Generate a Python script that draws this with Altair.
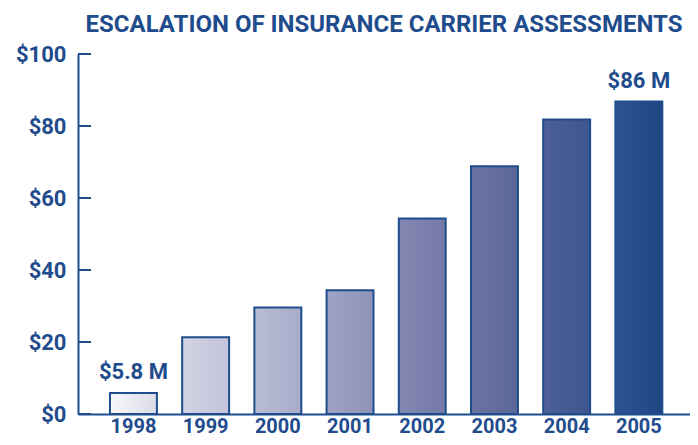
import altair as alt
import pandas as pd

years = ["1998", "1999", "2000", "2001", "2002", "2003", "2004", "2005"]
values = [5.8, 21.3, 29.6, 34.4, 54.3, 68.8, 81.8, 86.8]
labels = ["$5.8 M", "", "", "", "", "", "", "$86 M"]
tick_values = [0, 20, 40, 60, 80, 100]

left_colors = ["#f6f6f9", "#d2d3e3", "#babdd6", "#a0a3c4", "#8387b1", "#6b73a3", "#4d6097", "#2f5290"]
right_colors = ["#dcdce8", "#c3c4d9", "#a8abc9", "#8e92b8", "#7479a7", "#5b6699", "#3e568e", "#1e4683"]

NAVY = "#1f4c8c"
FONT = "Roboto"

df = pd.DataFrame({"year": years, "value": values, "label": labels})
ticks_df = pd.DataFrame({"t": tick_values})

x_scale = alt.Scale(domain=years, paddingInner=0.35, paddingOuter=0.413, align=0.536)
y_scale = alt.Scale(domain=[0, 100], nice=False)

x_axis = alt.Axis(title=None, labelFont=FONT, labelFontSize=20, labelFontWeight="bold",
                  labelColor=NAVY, domainColor=NAVY, domainWidth=2, ticks=False,
                  labelPadding=2, labelAngle=0)
y_axis = alt.Axis(title=None, values=tick_values, labelExpr="'$' + datum.value",
                  labelFont=FONT, labelFontSize=22, labelFontWeight="bold",
                  labelColor=NAVY, domainColor=NAVY, domainWidth=2, ticks=False,
                  labelPadding=12, grid=False)

layers = []
for i, yr in enumerate(years):
    grad = alt.Gradient(
        gradient="linear",
        stops=[alt.GradientStop(color=left_colors[i], offset=0),
               alt.GradientStop(color=right_colors[i], offset=1)],
        x1=0, x2=1, y1=0, y2=0,
    )
    layer = alt.Chart(df).transform_filter(alt.datum.year == yr).mark_bar(
        fill=grad, stroke=NAVY, strokeWidth=2
    ).encode(
        x=alt.X("year:N", scale=x_scale, axis=x_axis, sort=years),
        y=alt.Y("value:Q", scale=y_scale, axis=y_axis),
    )
    layers.append(layer)

text = alt.Chart(df).mark_text(
    font=FONT, fontSize=22, fontWeight="bold", color=NAVY, baseline="bottom", dy=-9
).encode(
    x=alt.X("year:N", scale=x_scale, sort=years),
    y=alt.Y("value:Q", scale=y_scale),
    text="label:N",
)

tick_rules = alt.Chart(ticks_df).mark_rule(color=NAVY, strokeWidth=2).encode(
    y=alt.Y("t:Q", scale=y_scale),
    x=alt.value(0),
    x2=alt.value(13),
)

chart = alt.layer(*layers, text, tick_rules).properties(
    width=612,
    height=360,
    title=alt.TitleParams(
        "ESCALATION OF INSURANCE CARRIER ASSESSMENTS",
        font=FONT, fontSize=24, fontWeight="bold", color=NAVY, anchor="middle", offset=6,
    ),
    autosize=alt.AutoSizeParams(type="none"),
    padding={"left": 70, "top": 46, "right": 0, "bottom": 23},
).configure_view(stroke=None)

chart.save("out.html", embed_options={"renderer": "svg", "actions": False})
